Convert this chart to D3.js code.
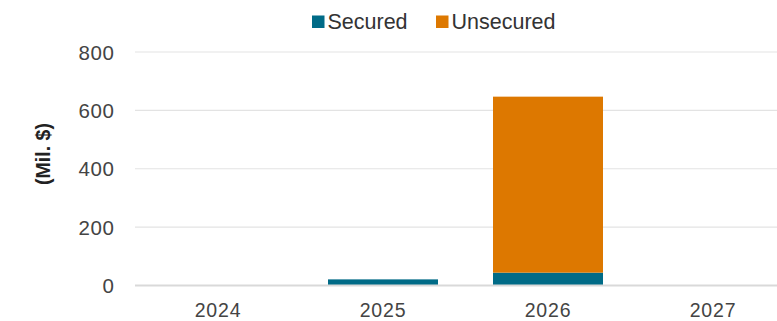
<!DOCTYPE html>
<html><head><meta charset="utf-8">
<script src="https://cdn.jsdelivr.net/npm/d3@7"></script>
<style>body{margin:0;background:#fff}svg{display:block}</style>
</head><body>
<svg id="c" width="777" height="321"></svg>
<script>
const categories = ["2024","2025","2026","2027"];
const secured = [0, 21, 44, 0];
const unsecured = [0, 0, 603, 0];
const yTicks = [0, 200, 400, 600, 800];
const seriesNames = ["Secured","Unsecured"];
const colors = ["#006b87","#dd7800"];

const svg = d3.select("#c");
const font = "'Liberation Sans', Arial, sans-serif";
const x = d3.scaleBand().domain(categories).range([135.5, 795.5]).paddingInner(1/3).paddingOuter(1/6);
const y = d3.scaleLinear().domain([0, 800]).range([285.5, 52]);

// gridlines
svg.append("g").selectAll("line").data(yTicks.filter(d=>d>0)).join("line")
  .attr("x1",135).attr("x2",777).attr("y1",d=>y(d)).attr("y2",d=>y(d))
  .attr("stroke","#e3e3e3").attr("stroke-width",1.2);

// tick labels
svg.append("g").selectAll("text").data(yTicks).join("text")
  .attr("x",114.5).attr("y",d=>y(d)+7.5).attr("text-anchor","end")
  .attr("font-family",font).attr("font-size",20.5).attr("letter-spacing",0.6).attr("fill","#444")
  .text(d=>d);

// stacked bars
const data = categories.map((c,i)=>({cat:c, Secured:secured[i], Unsecured:unsecured[i]}));
const stack = d3.stack().keys(seriesNames)(data);
svg.append("g").selectAll("g").data(stack).join("g").attr("fill",(d,i)=>colors[i])
  .selectAll("rect").data(d=>d).join("rect")
  .attr("x",d=>x(d.data.cat)).attr("width",x.bandwidth())
  .attr("y",d=>y(d[1])).attr("height",d=>Math.max(0,y(d[0])-y(d[1])));

// baseline
svg.append("line").attr("x1",135).attr("x2",777).attr("y1",y(0)).attr("y2",y(0))
  .attr("stroke","#d9d9d9").attr("stroke-width",2);

// x labels
svg.append("g").selectAll("text").data(categories).join("text")
  .attr("x",d=>x(d)+x.bandwidth()/2).attr("y",316.5).attr("text-anchor","middle")
  .attr("font-family",font).attr("font-size",19.5).attr("letter-spacing",0.8).attr("fill","#444").text(d=>d);

// y title
svg.append("text").attr("transform","translate(50,154) rotate(-90)")
  .attr("text-anchor","middle").attr("font-family",font).attr("font-size",19.5)
  .attr("font-weight","bold").attr("fill","#222").text("(Mil. $)");

// legend
const leg = svg.append("g");
const items = [{n:"Secured",c:colors[0],x:312},{n:"Unsecured",c:colors[1],x:436}];
items.forEach(it=>{
  leg.append("rect").attr("x",it.x).attr("y",15.5).attr("width",12.5).attr("height",12.5).attr("fill",it.c);
  leg.append("text").attr("x",it.x+15.5).attr("y",29).attr("font-family",font).attr("font-size",21.5)
    .attr("fill","#333").text(it.n);
});
</script>
</body></html>
